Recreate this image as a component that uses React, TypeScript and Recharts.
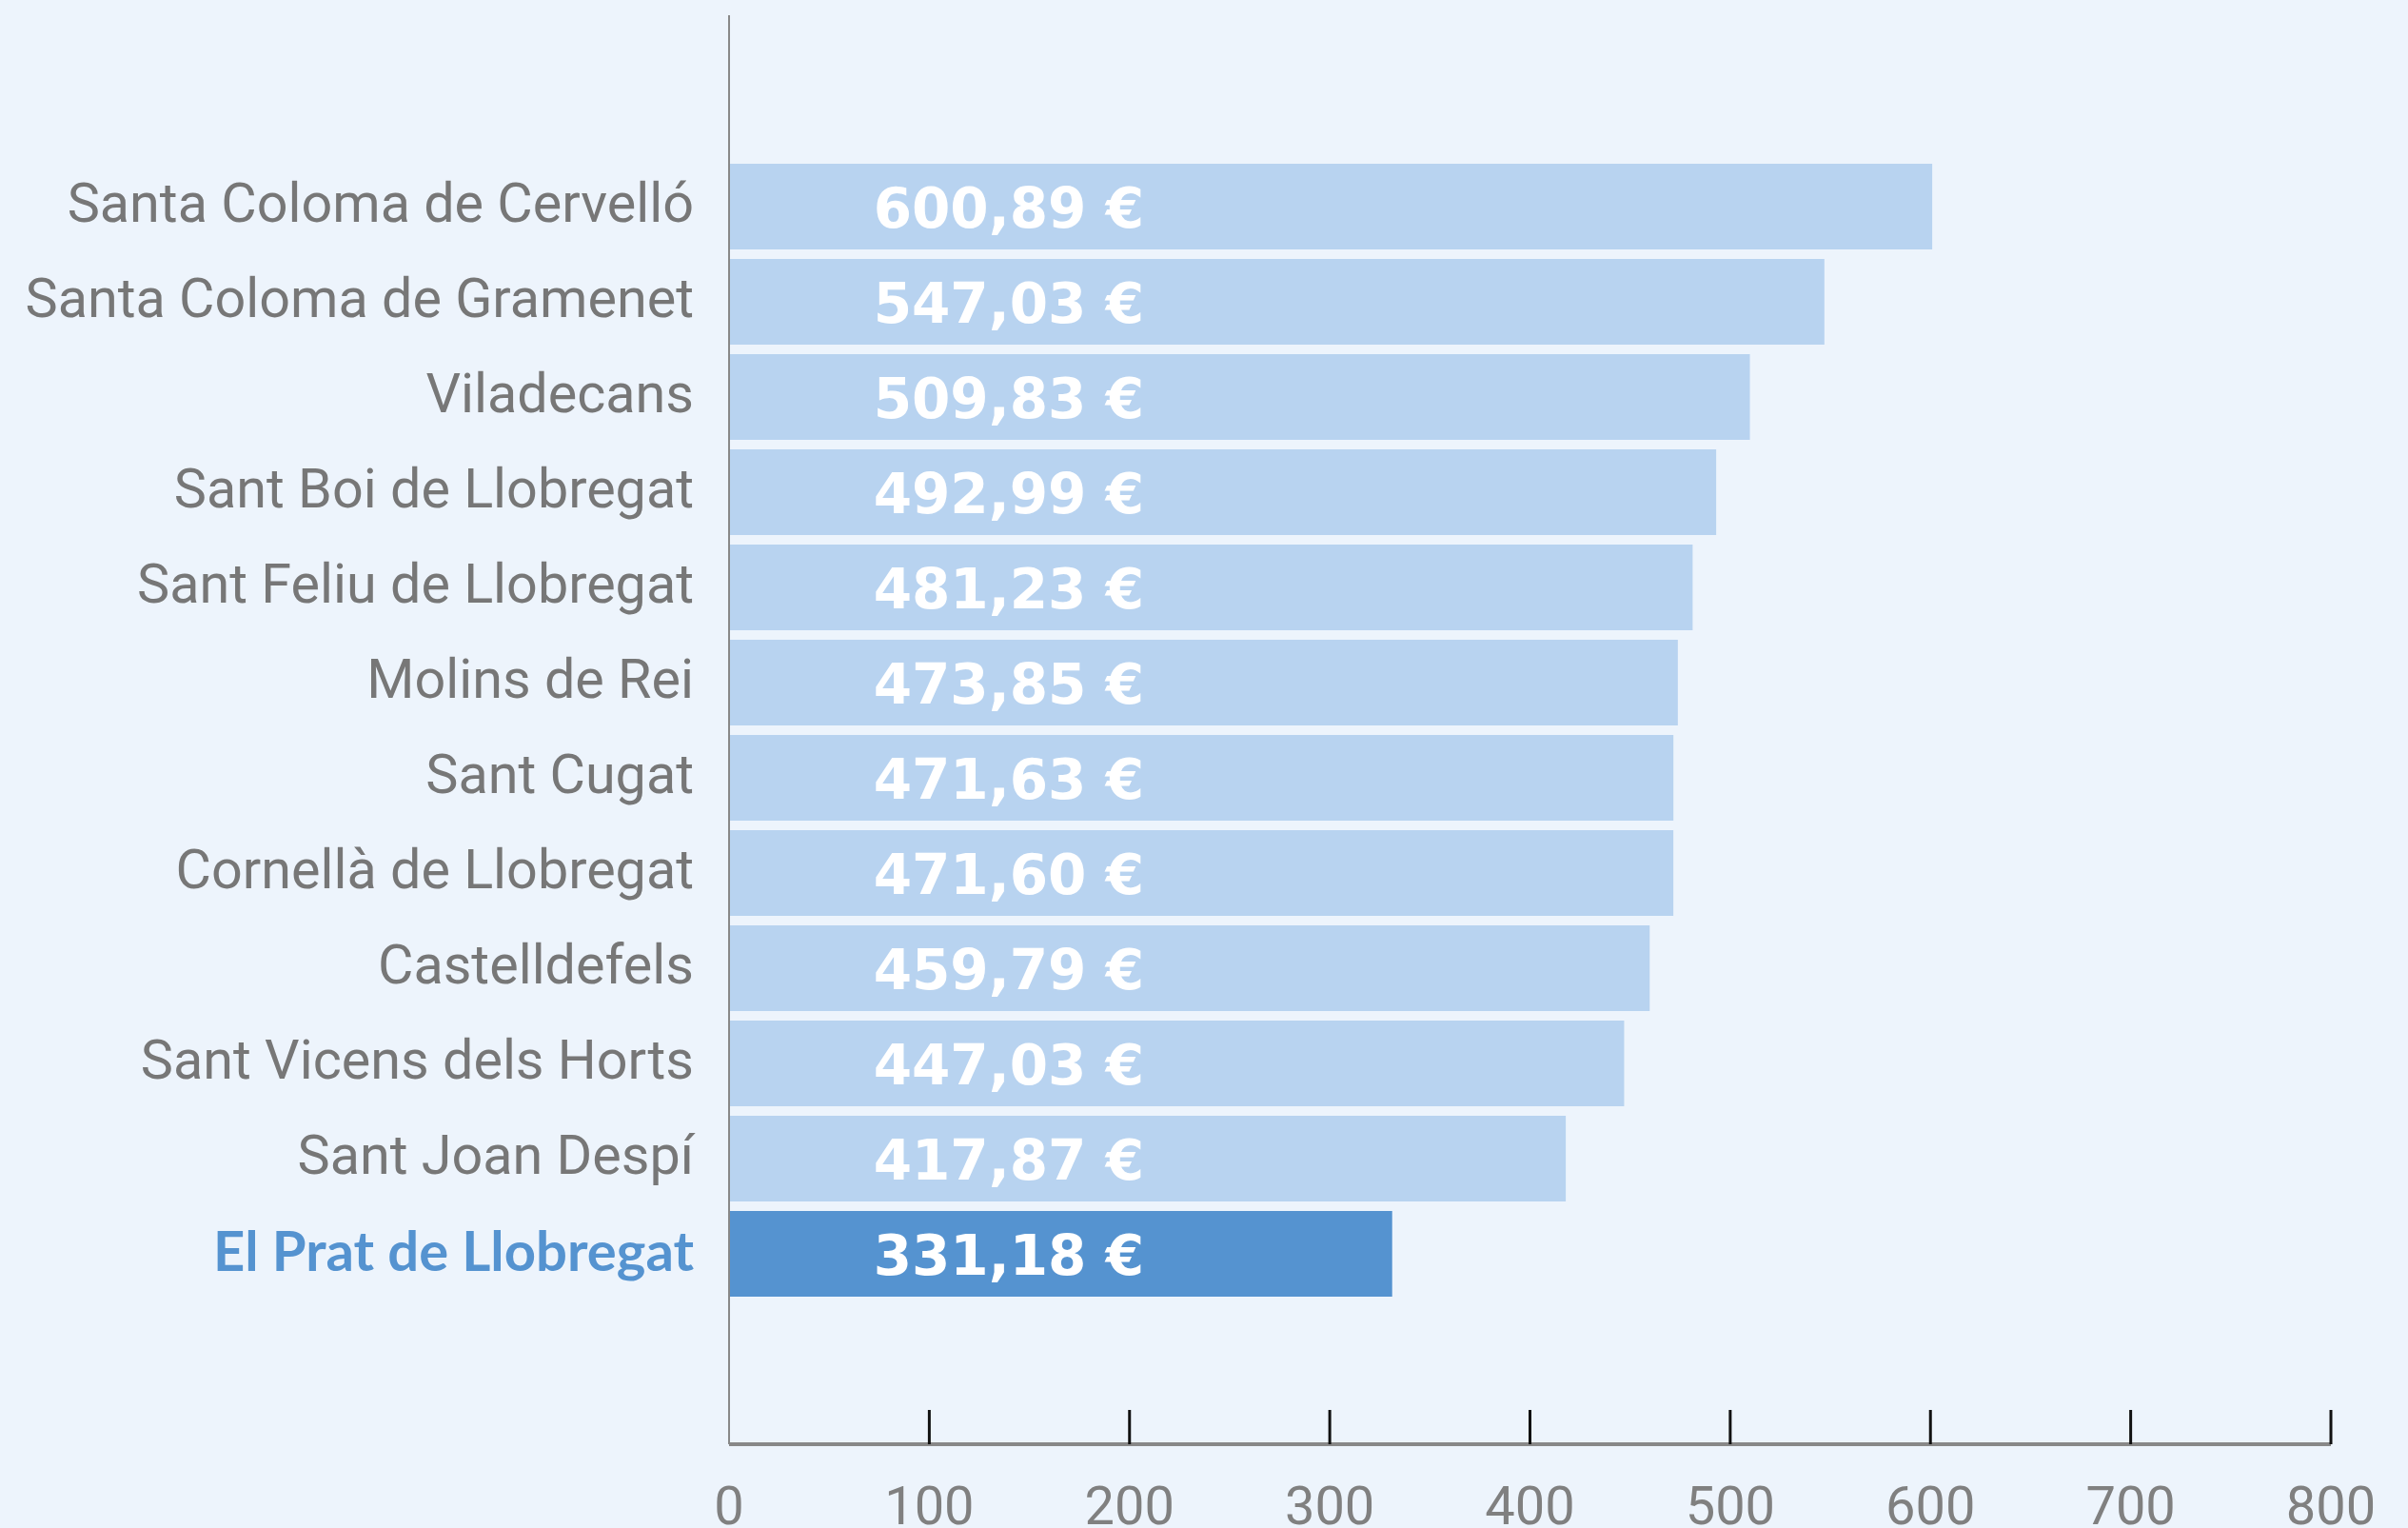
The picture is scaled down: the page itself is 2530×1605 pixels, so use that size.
import React from 'react';
import { BarChart, Bar, XAxis, YAxis, Cell, LabelList } from 'recharts';

const municipalities = [
  'Santa Coloma de Cervelló',
  'Santa Coloma de Gramenet',
  'Viladecans',
  'Sant Boi de Llobregat',
  'Sant Feliu de Llobregat',
  'Molins de Rei',
  'Sant Cugat',
  'Cornellà de Llobregat',
  'Castelldefels',
  'Sant Vicens dels Horts',
  'Sant Joan Despí',
  'El Prat de Llobregat',
];
const amounts = [600.89, 547.03, 509.83, 492.99, 481.23, 473.85, 471.63, 471.6, 459.79, 447.03, 417.87, 331.18];
const xTicks = [0, 100, 200, 300, 400, 500, 600, 700, 800];
const highlighted = 'El Prat de Llobregat';

const data = municipalities.map((name, i) => ({ name, amount: amounts[i] }));

const BG = '#edf4fc';
const LIGHT = '#b8d3f0';
const DARK = '#5593d0';

const formatEuro = (v: number) => v.toFixed(2).replace('.', ',') + ' €';

const CategoryTick = (props: any) => {
  const { x, y, payload } = props;
  const isHi = payload.value === highlighted;
  return (
    <text
      x={x}
      y={y}
      dy={isHi ? 18 : 16}
      textAnchor="end"
      fontFamily={isHi ? 'Lato' : 'Roboto'}
      fontWeight={isHi ? 700 : 400}
      fontSize={isHi ? 58 : 57.5}
      fill={isHi ? DARK : '#777777'}
    >
      {payload.value}
    </text>
  );
};

// tick marks go up from the axis line, labels sit below
const ValueTick = (props: any) => {
  const { x, y, payload } = props;
  const axisY = y - 4;
  return (
    <g>
      {payload.value !== 0 && (
        <line x1={x} x2={x} y1={axisY - 36} y2={axisY} stroke="#111" strokeWidth={3} />
      )}
      <text x={x} y={axisY + 84} textAnchor="middle" fontFamily="Roboto" fontSize={56} fill="#808080">
        {payload.value}
      </text>
    </g>
  );
};

const AmountLabel = (props: any) => {
  const { x, y, height, value } = props;
  return (
    <text
      x={x + 436}
      y={y + height / 2}
      dy={22}
      textAnchor="end"
      fontFamily="DejaVu Sans"
      fontWeight={700}
      fontSize={58}
      fill="#ffffff"
    >
      {formatEuro(value)}
    </text>
  );
};

export default function App() {
  return (
    <div style={{ position: 'absolute', left: 0, top: 0, width: 2530, height: 1605, background: BG }}>
      <BarChart
        width={2530}
        height={1605}
        data={data}
        layout="vertical"
        margin={{ top: 16, right: 81, bottom: 0, left: 0 }}
        barCategoryGap="5%"
      >
        <XAxis
          type="number"
          domain={[0, 800]}
          ticks={xTicks}
          interval={0}
          height={88}
          tickSize={0}
          tickMargin={4}
          tickLine={false}
          axisLine={{ stroke: '#888888', strokeWidth: 4 }}
          tick={<ValueTick />}
        />
        <YAxis
          type="category"
          dataKey="name"
          width={766}
          padding={{ top: 151, bottom: 150 }}
          tickSize={0}
          tickMargin={37}
          tickLine={false}
          axisLine={{ stroke: '#888888', strokeWidth: 2 }}
          tick={<CategoryTick />}
          interval={0}
        />
        <Bar dataKey="amount" isAnimationActive={false}>
          {data.map((d) => (
            <Cell key={d.name} fill={d.name === highlighted ? DARK : LIGHT} />
          ))}
          <LabelList dataKey="amount" content={<AmountLabel />} />
        </Bar>
      </BarChart>
    </div>
  );
}
